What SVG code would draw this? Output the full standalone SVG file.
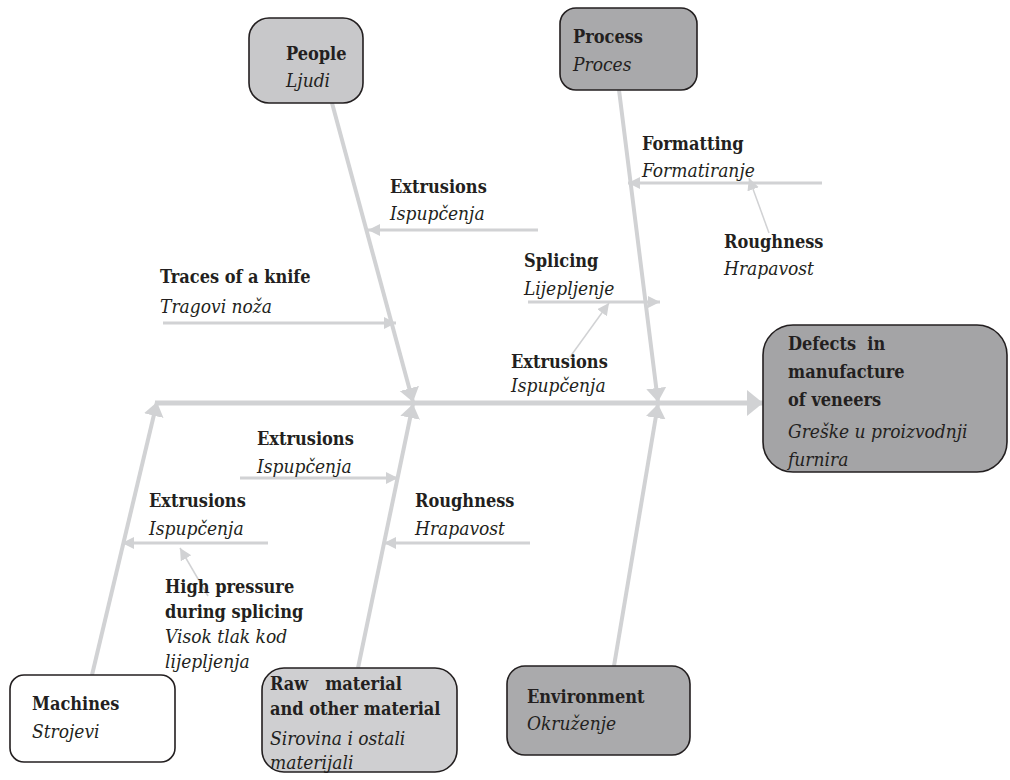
<svg xmlns="http://www.w3.org/2000/svg" width="1010" height="780" viewBox="0 0 1010 780">
<style>
.box{stroke:#231f20;stroke-width:1.6}
text{font-family:'DejaVu Serif Condensed','DejaVu Serif',serif;font-stretch:condensed;fill:#231f20;white-space:pre}
.b{font-weight:bold;font-size:18px}
.i{font-style:italic;font-size:19px}
.spine{stroke:#d1d2d4;stroke-width:5;fill:none}
.main{stroke:#d1d2d4;stroke-width:4;fill:none}
.sub{stroke:#d1d2d4;stroke-width:3;fill:none}
.thin{stroke:#d1d2d4;stroke-width:1.5;fill:none}
</style>
<defs>
<marker id="aSpine" markerUnits="userSpaceOnUse" markerWidth="18" markerHeight="28" refX="16" refY="13" orient="auto"><path d="M0,0 L16,13 L0,26 z" fill="#d1d2d4"/></marker>
<marker id="aMain" markerUnits="userSpaceOnUse" markerWidth="16" markerHeight="22" refX="14" refY="10" orient="auto"><path d="M0,0 L14,10 L0,20 z" fill="#d1d2d4"/></marker>
<marker id="aSub" markerUnits="userSpaceOnUse" markerWidth="14" markerHeight="14" refX="12" refY="6" orient="auto"><path d="M0,0 L12,6 L0,12 z" fill="#d1d2d4"/></marker>
</defs>

<g id="connectors">
<line class="spine" x1="155" y1="403" x2="763" y2="403" marker-end="url(#aSpine)"/>
<line class="main" x1="332" y1="103" x2="413" y2="402" marker-end="url(#aMain)"/>
<line class="main" x1="619" y1="90" x2="658" y2="402" marker-end="url(#aMain)"/>
<line class="main" x1="92" y1="675" x2="157" y2="402" marker-end="url(#aMain)"/>
<line class="main" x1="358" y1="668" x2="413" y2="404" marker-end="url(#aMain)"/>
<line class="main" x1="614" y1="666" x2="658" y2="404" marker-end="url(#aMain)"/>
<line class="sub" x1="538" y1="230" x2="368" y2="230" marker-end="url(#aSub)"/>
<line class="sub" x1="163" y1="323" x2="396" y2="323" marker-end="url(#aSub)"/>
<line class="sub" x1="822" y1="183" x2="628" y2="183" marker-end="url(#aSub)"/>
<line class="sub" x1="528" y1="302" x2="660" y2="302" marker-end="url(#aSub)"/>
<line class="sub" x1="240" y1="478" x2="398" y2="478" marker-end="url(#aSub)"/>
<line class="sub" x1="268" y1="543" x2="122" y2="543" marker-end="url(#aSub)"/>
<line class="sub" x1="530" y1="543" x2="384" y2="543" marker-end="url(#aSub)"/>
<line class="thin" x1="769" y1="233" x2="749" y2="178" marker-end="url(#aSub)"/>
<line class="thin" x1="570" y1="357" x2="609" y2="303" marker-end="url(#aSub)"/>
<line class="thin" x1="208" y1="596" x2="180" y2="548" marker-end="url(#aSub)"/>
</g>

<g id="people">
<rect class="box" x="249" y="18" width="114" height="85" rx="20" fill="#c8c8ca"/>
<text class="b" x="286" y="60">People</text>
<text class="i" x="286" y="87">Ljudi</text>
</g>
<g id="process">
<rect class="box" x="560" y="8" width="137" height="82" rx="16" fill="#a9a9ab"/>
<text class="b" x="573" y="43">Process</text>
<text class="i" x="573" y="71">Proces</text>
</g>
<g id="defects">
<rect class="box" x="763" y="325" width="244" height="147" rx="30" fill="#a4a4a6"/>
<text class="b" x="788" y="350">Defects  in</text>
<text class="b" x="788" y="378">manufacture</text>
<text class="b" x="788" y="406">of veneers</text>
<text class="i" x="788" y="438">Greške u proizvodnji</text>
<text class="i" x="788" y="466">furnira</text>
</g>
<g id="machines">
<rect class="box" x="10" y="675" width="165" height="87" rx="14" fill="#ffffff"/>
<text class="b" x="32" y="710">Machines</text>
<text class="i" x="32" y="738">Strojevi</text>
</g>
<g id="raw-material">
<rect class="box" x="262" y="668" width="195" height="104" rx="22" fill="#cfcfd1"/>
<text class="b" x="270" y="690">Raw   material</text>
<text class="b" x="270" y="715">and other material</text>
<text class="i" x="270" y="745">Sirovina i ostali</text>
<text class="i" x="270" y="769">materijali</text>
</g>
<g id="environment">
<rect class="box" x="507" y="666" width="183" height="89" rx="18" fill="#aaaaac"/>
<text class="b" x="527" y="703">Environment</text>
<text class="i" x="527" y="730">Okruženje</text>
</g>

<g id="extrusions-people">
<text class="b" x="390" y="193">Extrusions</text>
<text class="i" x="390" y="220">Ispupčenja</text>
</g>
<g id="traces-knife">
<text class="b" x="160" y="283">Traces of a knife</text>
<text class="i" x="160" y="313">Tragovi noža</text>
</g>
<g id="formatting">
<text class="b" x="642" y="150">Formatting</text>
<text class="i" x="642" y="177">Formatiranje</text>
</g>
<g id="roughness-process">
<text class="b" x="724" y="248">Roughness</text>
<text class="i" x="724" y="275">Hrapavost</text>
</g>
<g id="splicing">
<text class="b" x="524" y="267">Splicing</text>
<text class="i" x="524" y="295">Lijepljenje</text>
</g>
<g id="extrusions-splicing">
<text class="b" x="511" y="368">Extrusions</text>
<text class="i" x="511" y="392">Ispupčenja</text>
</g>
<g id="extrusions-raw">
<text class="b" x="257" y="445">Extrusions</text>
<text class="i" x="257" y="473">Ispupčenja</text>
</g>
<g id="extrusions-machines">
<text class="b" x="149" y="507">Extrusions</text>
<text class="i" x="149" y="535">Ispupčenja</text>
</g>
<g id="roughness-raw">
<text class="b" x="415" y="507">Roughness</text>
<text class="i" x="415" y="535">Hrapavost</text>
</g>
<g id="high-pressure">
<text class="b" x="165" y="593">High pressure</text>
<text class="b" x="165" y="618">during splicing</text>
<text class="i" x="165" y="643">Visok tlak kod</text>
<text class="i" x="165" y="668">lijepljenja</text>
</g>
</svg>
